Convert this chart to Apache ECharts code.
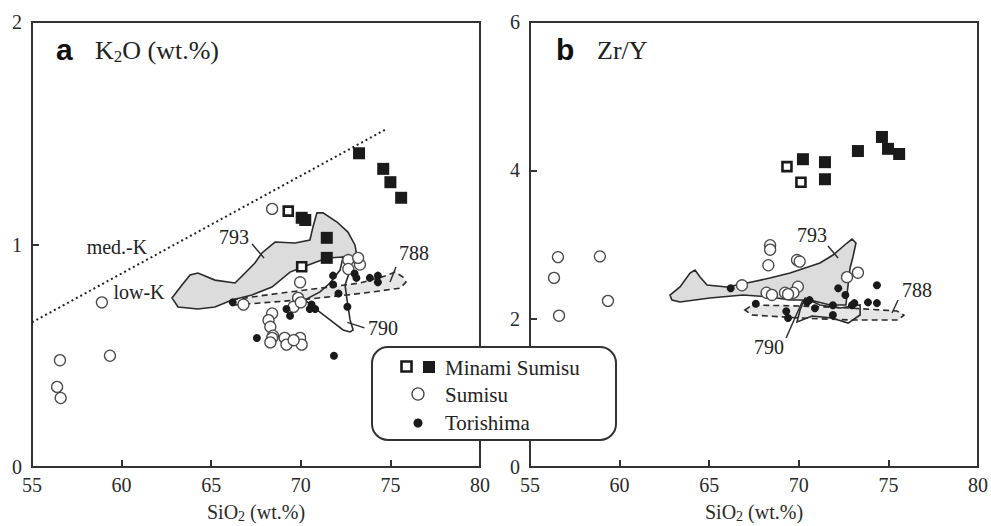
<!DOCTYPE html>
<html><head><meta charset="utf-8">
<script src="https://cdn.jsdelivr.net/npm/echarts@6/dist/echarts.min.js"></script>
<style>html,body{margin:0;padding:0;background:#fff}#c{width:991px;height:526px}</style>
</head><body><div id="c"></div>
<script>
// ---------- data ----------
const siTicks = [55, 60, 65, 70, 75, 80];
const k2oTicks = [0, 1, 2];
const zryTicks = [0, 2, 4, 6];
const legendNames = ['Minami Sumisu', 'Sumisu', 'Torishima'];

// Panel a: K2O vs SiO2
const k2oMinamiOpen = [[69.3, 1.15], [70.05, 0.90]];
const k2oMinamiFilled = [[73.25, 1.41], [74.6, 1.34], [75.0, 1.28], [75.6, 1.21], [70.05, 1.12], [70.25, 1.11], [71.45, 1.03], [71.45, 0.94]];
const k2oSumisu = [[68.4, 1.16], [58.9, 0.74], [56.56, 0.48], [59.35, 0.50], [56.4, 0.36], [56.6, 0.31], [66.8, 0.73],
  [69.96, 0.83], [69.85, 0.76], [69.6, 0.72], [70.0, 0.74], [72.65, 0.93], [73.3, 0.91], [72.65, 0.89], [73.2, 0.94],
  [68.4, 0.69], [68.2, 0.66], [68.3, 0.63], [68.45, 0.59], [68.4, 0.58], [68.3, 0.56], [69.1, 0.58], [69.2, 0.55],
  [69.96, 0.58], [70.05, 0.55], [69.6, 0.57]];
const k2oTorishima = [[66.2, 0.74], [67.55, 0.58], [71.85, 0.50], [69.2, 0.71], [69.4, 0.68], [70.5, 0.71], [70.8, 0.71],
  [70.6, 0.73], [71.8, 0.86], [71.8, 0.82], [72.1, 0.78], [72.6, 0.72], [73.0, 0.87], [73.1, 0.85], [73.85, 0.85],
  [74.3, 0.86], [74.3, 0.83]];
const k2oBoundary = [[55, 0.65], [74.8, 1.52]];
const k2oField793 = [[62.81, 0.760], [63.37, 0.818], [63.82, 0.863], [64.26, 0.872], [65.21, 0.840], [66.33, 0.827],
  [66.89, 0.872], [67.44, 0.917], [67.83, 0.962], [68.56, 1.011], [69.68, 1.007], [70.51, 1.020], [70.68, 1.079],
  [70.90, 1.142], [71.24, 1.142], [72.02, 1.101], [72.63, 1.056], [73.02, 0.998], [73.19, 0.921], [72.75, 0.921],
  [72.36, 0.944], [71.46, 0.939], [70.12, 0.899], [69.40, 0.876], [68.39, 0.809], [67.28, 0.773], [66.16, 0.751],
  [65.21, 0.719], [64.26, 0.710], [63.15, 0.719]];
const k2oField790 = [[72.36, 0.944], [72.19, 0.885], [71.63, 0.827], [71.07, 0.787], [70.23, 0.751], [70.90, 0.706],
  [71.63, 0.661], [72.36, 0.616], [72.75, 0.607], [72.92, 0.616], [72.75, 0.661], [72.58, 0.751], [72.47, 0.818],
  [72.75, 0.885], [72.75, 0.921]];
const k2oField788 = [[66.16, 0.751], [67.72, 0.769], [69.40, 0.787], [71.63, 0.809], [73.30, 0.827], [74.70, 0.858],
  [75.26, 0.876], [75.70, 0.854], [75.87, 0.831], [75.54, 0.804], [74.03, 0.787], [72.58, 0.773], [69.96, 0.751],
  [67.72, 0.737], [66.33, 0.728]];
const k2oLabels = [['med.-K', 59.74, 0.989], ['low-K', 60.97, 0.787], ['793', 66.27, 1.034], ['788', 76.32, 0.962], ['790', 74.59, 0.625]];
const k2oLeaders = [[[67.28, 1.002], [67.95, 0.939]], [[75.31, 0.899], [74.98, 0.831]], [[72.6, 0.65], [73.55, 0.625]]];

// Panel b: Zr/Y vs SiO2
const zryMinamiOpen = [[69.34, 4.05], [70.12, 3.84]];
const zryMinamiFilled = [[70.23, 4.15], [71.46, 4.11], [71.46, 3.88], [73.3, 4.26], [74.64, 4.45], [74.98, 4.29], [75.6, 4.22]];
const zrySumisu = [[56.56, 2.83], [58.9, 2.84], [56.34, 2.55], [59.35, 2.24], [56.62, 2.04], [68.4, 2.99], [68.4, 2.93],
  [68.3, 2.72], [69.9, 2.79], [70.05, 2.77], [66.83, 2.45], [72.69, 2.56], [73.3, 2.62], [68.2, 2.35], [68.5, 2.32],
  [69.23, 2.35], [69.95, 2.43], [69.7, 2.35], [69.4, 2.33]];
const zryTorishima = [[66.2, 2.41], [67.6, 2.20], [69.3, 2.10], [69.4, 2.01], [70.46, 2.22], [70.9, 2.14], [71.9, 2.18],
  [71.9, 2.05], [72.2, 2.41], [72.6, 2.32], [73.1, 2.21], [72.97, 2.18], [73.86, 2.22], [74.36, 2.21], [74.36, 2.45], [70.6, 2.25]];
const zryField793 = [[62.81, 2.319], [63.37, 2.427], [63.93, 2.616], [64.21, 2.656], [64.49, 2.562], [64.88, 2.454],
  [65.99, 2.427], [67.11, 2.481], [68.39, 2.548], [69.51, 2.616], [71.18, 2.750], [71.91, 2.858], [72.69, 3.020],
  [72.97, 3.074], [73.19, 3.020], [73.02, 2.831], [72.86, 2.683], [72.75, 2.454], [72.63, 2.184], [71.74, 2.184],
  [70.63, 2.252], [69.51, 2.252], [68.39, 2.292], [66.89, 2.319], [65.04, 2.279], [63.37, 2.225], [62.92, 2.252]];
const zryField790 = [[70.35, 2.279], [71.18, 2.184], [72.30, 2.144], [73.42, 2.184], [73.42, 2.049], [72.75, 1.941],
  [71.85, 2.009], [70.74, 2.036], [69.90, 1.955], [70.07, 2.117]];
const zryField788 = [[66.99, 2.117], [67.39, 2.184], [70.07, 2.171], [72.86, 2.144], [75.48, 2.103], [75.87, 2.049],
  [75.54, 1.982], [72.86, 1.982], [70.07, 2.009], [67.39, 2.049]];
const zryLabels = [['793', 70.74, 3.128], ['788', 76.6, 2.386], ['790', 68.34, 1.618]];
const zryLeaders = [[[71.63, 2.98], [72.19, 2.818]], [[75.54, 2.252], [75.2, 2.076]], [[69.29, 1.739], [70.23, 2.252]]];

// ---------- styles ----------
const SERIF = 'Liberation Serif';
const SANS = 'Liberation Sans';
const AX = '#333';
const INK = '#1a1a1a';

function xAxisDef(i) {
  return {
    gridIndex: i, type: 'value', min: siTicks[0], max: siTicks[siTicks.length - 1], interval: siTicks[1] - siTicks[0],
    axisLine: { show: true, onZero: false, lineStyle: { color: AX, width: 2 } },
    axisTick: { show: true, inside: true, length: 7, lineStyle: { color: AX, width: 2 } },
    axisLabel: { fontFamily: SERIF, fontSize: 20, color: '#2a2a2a', margin: 8 },
    splitLine: { show: false },
    name: '{n|SiO}{s|2}{n| (wt.%)}', nameLocation: 'middle', nameGap: 34,
    nameTextStyle: { fontFamily: SERIF, rich: {
      n: { fontFamily: SERIF, fontSize: 20, color: '#2a2a2a', lineHeight: 22 },
      s: { fontFamily: SERIF, fontSize: 14, color: '#2a2a2a', lineHeight: 22, verticalAlign: 'bottom' } } }
  };
}
function yAxisDef(i, ticks) {
  return {
    gridIndex: i, type: 'value', min: ticks[0], max: ticks[ticks.length - 1], interval: ticks[1] - ticks[0],
    axisLine: { show: true, onZero: false, lineStyle: { color: AX, width: 2 } },
    axisTick: { show: true, inside: true, length: 7, lineStyle: { color: AX, width: 2 } },
    axisLabel: { fontFamily: SERIF, fontSize: 20, color: '#2a2a2a', margin: 10 },
    splitLine: { show: false }
  };
}
function polygonSeries(i, pts, fill, dashed, z) {
  return {
    type: 'custom', xAxisIndex: i, yAxisIndex: i, silent: true, z: z, clip: false,
    data: [pts[0]],
    renderItem: function (params, api) {
      return { type: 'polygon', shape: { points: pts.map(p => api.coord(p)) },
        style: { fill: fill, stroke: '#2a2a2a', lineWidth: 1.6, lineDash: dashed ? [6, 4] : null } };
    }
  };
}
function leaderSeries(i, leaders) {
  return {
    type: 'custom', xAxisIndex: i, yAxisIndex: i, silent: true, z: 5, clip: false,
    data: leaders.map(l => l[0]),
    renderItem: function (params, api) {
      const l = leaders[params.dataIndex];
      const a = api.coord(l[0]), b = api.coord(l[1]);
      return { type: 'line', shape: { x1: a[0], y1: a[1], x2: b[0], y2: b[1] }, style: { stroke: '#2a2a2a', lineWidth: 1.4 } };
    }
  };
}
function labelSeries(i, labels) {
  return {
    type: 'custom', xAxisIndex: i, yAxisIndex: i, silent: true, z: 6, clip: false,
    data: labels.map(l => [l[1], l[2]]),
    renderItem: function (params, api) {
      const l = labels[params.dataIndex];
      const p = api.coord([l[1], l[2]]);
      return { type: 'text', x: p[0], y: p[1],
        style: { text: l[0], font: '20px "Liberation Serif"', fill: '#222', align: 'center', verticalAlign: 'middle' } };
    }
  };
}
function scat(i, name, data, opt) {
  return Object.assign({ type: 'scatter', name: name, xAxisIndex: i, yAxisIndex: i, data: data, z: 10, silent: true }, opt);
}
const openSq = { symbol: 'rect', symbolSize: 9, itemStyle: { color: '#fff', borderColor: INK, borderWidth: 2.6, opacity: 1 } };
const fillSq = { symbol: 'rect', symbolSize: 12, itemStyle: { color: INK, opacity: 1 } };
const openCi = { symbol: 'circle', symbolSize: 11, itemStyle: { color: '#fff', borderColor: '#4a4a4a', borderWidth: 1.3, opacity: 1 } };
const fillCi = { symbol: 'circle', symbolSize: 8, itemStyle: { color: INK, opacity: 1 } };

const LZ = 200;
const chart = echarts.init(document.getElementById('c'), null, { renderer: 'svg' });
chart.setOption({
  animation: false,
  backgroundColor: '#fff',
  textStyle: { fontFamily: SERIF },
  title: [
    { text: 'a', left: 51, top: 29, textStyle: { fontFamily: SANS, fontWeight: 'bold', fontSize: 30, color: '#111' } },
    { text: '{t|K}{s|2}{t|O (wt.%)}', left: 90, top: 30, textStyle: { fontWeight: 'normal', rich: {
      t: { fontFamily: SERIF, fontWeight: 'normal', fontSize: 26, color: '#222', lineHeight: 30 },
      s: { fontFamily: SERIF, fontWeight: 'normal', fontSize: 17, color: '#222', lineHeight: 30, verticalAlign: 'bottom' } } } },
    { text: 'b', left: 551, top: 29, textStyle: { fontFamily: SANS, fontWeight: 'bold', fontSize: 30, color: '#111' } },
    { text: 'Zr/Y', left: 592, top: 30, textStyle: { fontFamily: SERIF, fontWeight: 'normal', fontSize: 26, color: '#222', lineHeight: 30 } }
  ],
  grid: [
    { left: 32, top: 22, width: 448, height: 445, show: true, borderColor: AX, borderWidth: 2, backgroundColor: 'transparent', outerBoundsMode: 'none', containLabel: false },
    { left: 530, top: 22, width: 448, height: 445, show: true, borderColor: AX, borderWidth: 2, backgroundColor: 'transparent', outerBoundsMode: 'none', containLabel: false }
  ],
  xAxis: [xAxisDef(0), xAxisDef(1)],
  yAxis: [yAxisDef(0, k2oTicks), yAxisDef(1, zryTicks)],
  series: [
    polygonSeries(0, k2oField793, '#dcdcdc', false, 1),
    polygonSeries(0, k2oField788, '#e6e6e6', true, 2),
    polygonSeries(0, k2oField790, 'rgba(0,0,0,0)', false, 3),
    { type: 'line', xAxisIndex: 0, yAxisIndex: 0, data: k2oBoundary, symbol: 'none', silent: true, z: 4,
      lineStyle: { color: '#222', width: 2, type: [2, 3] } },
    leaderSeries(0, k2oLeaders),
    labelSeries(0, k2oLabels),
    scat(0, legendNames[1], k2oSumisu, openCi),
    scat(0, legendNames[2], k2oTorishima, fillCi),
    scat(0, legendNames[0], k2oMinamiOpen, openSq),
    scat(0, legendNames[0], k2oMinamiFilled, fillSq),

    polygonSeries(1, zryField793, '#dcdcdc', false, 1),
    polygonSeries(1, zryField788, '#e6e6e6', true, 2),
    polygonSeries(1, zryField790, 'rgba(0,0,0,0)', false, 3),
    leaderSeries(1, zryLeaders),
    labelSeries(1, zryLabels),
    scat(1, legendNames[1], zrySumisu, openCi),
    scat(1, legendNames[2], zryTorishima, fillCi),
    scat(1, legendNames[0], zryMinamiOpen, openSq),
    scat(1, legendNames[0], zryMinamiFilled, fillSq)
  ],
  graphic: [
    { type: 'rect', z: LZ, zlevel: 1, shape: { x: 372, y: 347, width: 244, height: 93, r: 16 }, style: { fill: '#fff', stroke: '#333', lineWidth: 2 } },
    { type: 'rect', z: LZ + 1, zlevel: 1, shape: { x: 401.5, y: 361.5, width: 10, height: 10 }, style: { fill: '#fff', stroke: INK, lineWidth: 2.6 } },
    { type: 'rect', z: LZ + 1, zlevel: 1, shape: { x: 423, y: 361, width: 12, height: 12 }, style: { fill: INK } },
    { type: 'text', z: LZ + 1, zlevel: 1, x: 445, y: 368, style: { text: legendNames[0], font: '21px "Liberation Serif"', fill: '#222', verticalAlign: 'middle' } },
    { type: 'circle', z: LZ + 1, zlevel: 1, shape: { cx: 418, cy: 394, r: 6 }, style: { fill: '#fff', stroke: '#444', lineWidth: 1.3 } },
    { type: 'text', z: LZ + 1, zlevel: 1, x: 445, y: 395, style: { text: legendNames[1], font: '21px "Liberation Serif"', fill: '#222', verticalAlign: 'middle' } },
    { type: 'circle', z: LZ + 1, zlevel: 1, shape: { cx: 418, cy: 423, r: 4.5 }, style: { fill: INK } },
    { type: 'text', z: LZ + 1, zlevel: 1, x: 445, y: 423, style: { text: legendNames[2], font: '21px "Liberation Serif"', fill: '#222', verticalAlign: 'middle' } }
  ]
});
</script>
</body></html>
